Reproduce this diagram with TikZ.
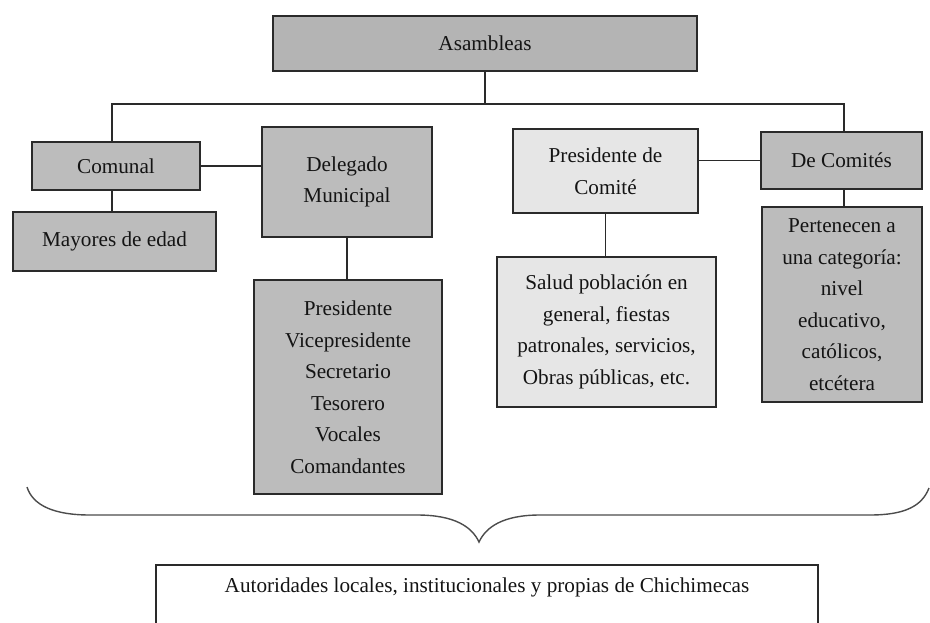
\documentclass[tikz,border=0pt]{standalone}
\usepackage{fontspec}
\setmainfont{Liberation Serif}
\definecolor{boxdark}{HTML}{BCBCBC}
\definecolor{boxdarker}{HTML}{B4B4B4}
\definecolor{boxlight}{HTML}{E6E6E6}
\definecolor{inkline}{HTML}{2A2A2A}
\definecolor{inktext}{HTML}{141414}
\begin{document}
\begin{tikzpicture}[x=1pt,y=-1pt,
  orgbox/.style={draw=inkline, line width=1.7pt, rectangle, inner sep=0pt,
    align=center, text=inktext, font=\fontsize{21.2}{31.5}\selectfont},
  darkbox/.style={orgbox, fill=boxdark},
  lightbox/.style={orgbox, fill=boxlight},
  link/.style={draw=inkline, line width=1.8pt},
  bracepath/.style={draw=black!70, line width=1.4pt}]
\useasboundingbox (0,0) rectangle (930,622);
\clip (0,0) rectangle (930,622);
% boxes
\node[darkbox, fill=boxdarker, minimum width=424, minimum height=55] (asambleas) at (485,43.5) {Asambleas};
\node[darkbox, minimum width=168, minimum height=48] (comunal) at (116,166) {Comunal};
\node[darkbox, minimum width=170, minimum height=110] (delegado) at (347,182) {Delegado\\Municipal};
\node[darkbox, minimum width=203, minimum height=59] (mayores) at (114.5,241.5) {Mayores de edad};
\node[darkbox, minimum width=188, minimum height=214] (lista) at (348,387) {Presidente\\Vicepresidente\\Secretario\\Tesorero\\Vocales\\Comandantes};
\node[lightbox, minimum width=185, minimum height=84] (prescomite) at (605.5,171) {Presidente de\\Comité};
\node[lightbox, minimum width=219, minimum height=150] (salud) at (606.5,332) {Salud población en\\general, fiestas\\patronales, servicios,\\Obras públicas, etc.};
\node[darkbox, minimum width=161, minimum height=57] (decomites) at (841.5,160.5) {De Comités};
\node[darkbox, minimum width=160, minimum height=195] (pertenecen) at (842,304.5) {Pertenecen a\\una categoría:\\nivel\\educativo,\\católicos,\\etcétera};
% bottom box (runs past the lower edge)
\node[draw=inkline, line width=1.7pt, rectangle, minimum width=662, minimum height=90, anchor=north] (autoridades) at (487,564) {};
\node[anchor=base, text=inktext, font=\fontsize{21.2}{31.5}\selectfont] (autoridadestext) at (487,592) {Autoridades locales, institucionales y propias de Chichimecas};
% bus coordinates
\coordinate (busL) at (112,104);
\coordinate (busR) at (844,104);
\coordinate (busM) at (asambleas.south |- busL);
% connectors
\draw[link] (asambleas.south) -- (busM);
\draw[link] (comunal.north -| busL) -- (busL) -- (busR) -- (decomites.north -| busR);
\draw[link] (comunal.east) -- (comunal.east -| delegado.west);
\draw[link] (comunal.south -| busL) -- (mayores.north -| busL);
\draw[link] (delegado.south) -- (delegado.south |- lista.north);
\draw[link] (decomites.west) -- (decomites.west -| prescomite.east);
\draw[link] (prescomite.south) -- (prescomite.south |- salud.north);
\draw[link] (decomites.south -| busR) -- (pertenecen.north -| busR);
% brace
\coordinate (braceL) at (27,487);
\coordinate (braceTip) at (479,542);
\coordinate (braceR) at (929,488);
\draw[bracepath] (braceL) .. controls (33,506) and (55,515) .. (90,515) -- (417,515)
  .. controls (455,515) and (472,527) .. (braceTip)
  .. controls (486,527) and (503,515) .. (540,515) -- (870,515)
  .. controls (905,515) and (922,506) .. (braceR);
\end{tikzpicture}
\end{document}
